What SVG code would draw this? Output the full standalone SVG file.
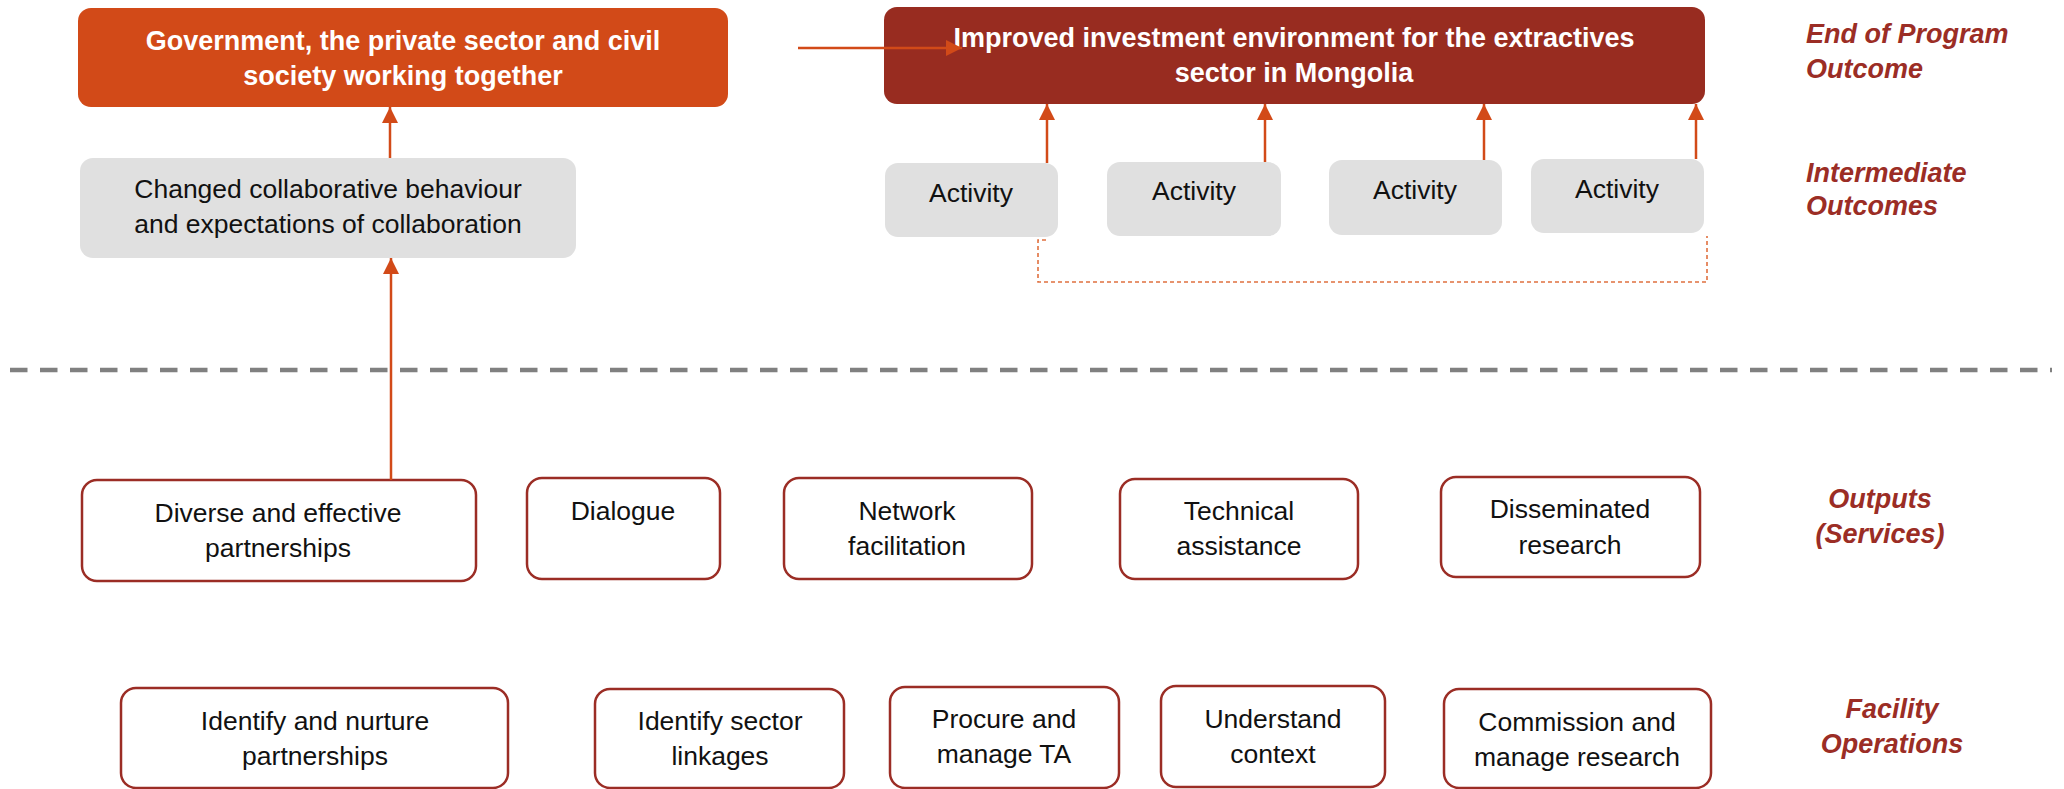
<svg xmlns="http://www.w3.org/2000/svg" width="2064" height="789" viewBox="0 0 2064 789">
<defs>
<style>
.t{font-family:"Liberation Sans",Arial,sans-serif;font-size:26.5px;fill:#111;text-anchor:middle}
.w{font-family:"Liberation Sans",Arial,sans-serif;font-size:27px;font-weight:bold;fill:#fff;text-anchor:middle}
.lab{font-family:"Liberation Sans",Arial,sans-serif;font-size:27px;font-weight:bold;font-style:italic;fill:#9B2D25}
.grey{fill:#E0E0E0}
.out{fill:#fff;stroke:#9B2D25;stroke-width:2.5}
.arr{stroke:#D24A18;stroke-width:2.5;fill:none}
</style>
<marker id="ah" viewBox="0 0 16 16" refX="16" refY="8" markerWidth="16" markerHeight="16" markerUnits="userSpaceOnUse" orient="auto">
<path d="M0,0 L16,8 L0,16 Z" fill="#D24A18"/>
</marker>
</defs>
<rect width="2064" height="789" fill="#fff"/>

<line x1="10" y1="370" x2="2052" y2="370" stroke="#808080" stroke-width="4.5" stroke-dasharray="17.5 12.5"/>

<g id="eop-gov">
<rect x="78" y="8" width="650" height="99" rx="13" fill="#D24A18"/>
<text class="w" x="403" y="50">Government, the private sector and civil</text>
<text class="w" x="403" y="85">society working together</text>
</g>
<g id="eop-invest">
<rect x="884" y="7" width="821" height="97" rx="13" fill="#982C20"/>
<text class="w" x="1294" y="47">Improved investment environment for the extractives</text>
<text class="w" x="1294" y="82">sector in Mongolia</text>
</g>

<g id="int-changed">
<rect x="80" y="158" width="496" height="100" rx="13" class="grey"/>
<text class="t" x="328" y="198">Changed collaborative behaviour</text>
<text class="t" x="328" y="233">and expectations of collaboration</text>
</g>
<g id="act1"><rect x="885" y="163" width="173" height="74" rx="13" class="grey"/><text class="t" x="971" y="202">Activity</text></g>
<g id="act2"><rect x="1107" y="162" width="174" height="74" rx="13" class="grey"/><text class="t" x="1194" y="200">Activity</text></g>
<g id="act3"><rect x="1329" y="160" width="173" height="75" rx="13" class="grey"/><text class="t" x="1415" y="199">Activity</text></g>
<g id="act4"><rect x="1531" y="159" width="173" height="74" rx="13" class="grey"/><text class="t" x="1617" y="198">Activity</text></g>

<g id="out-partner"><rect x="82" y="480" width="394" height="101" rx="15" class="out"/><text class="t" x="278" y="522">Diverse and effective</text><text class="t" x="278" y="557">partnerships</text></g>
<g id="out-dialogue"><rect x="527" y="478" width="193" height="101" rx="15" class="out"/><text class="t" x="623" y="520">Dialogue</text></g>
<g id="out-network"><rect x="784" y="478" width="248" height="101" rx="15" class="out"/><text class="t" x="907" y="520">Network</text><text class="t" x="907" y="555">facilitation</text></g>
<g id="out-ta"><rect x="1120" y="479" width="238" height="100" rx="15" class="out"/><text class="t" x="1239" y="520">Technical</text><text class="t" x="1239" y="555">assistance</text></g>
<g id="out-research"><rect x="1441" y="477" width="259" height="100" rx="15" class="out"/><text class="t" x="1570" y="518">Disseminated</text><text class="t" x="1570" y="554">research</text></g>

<g id="op-partner"><rect x="121" y="688" width="387" height="100" rx="15" class="out"/><text class="t" x="315" y="730">Identify and nurture</text><text class="t" x="315" y="765">partnerships</text></g>
<g id="op-linkages"><rect x="595" y="689" width="249" height="99" rx="15" class="out"/><text class="t" x="720" y="730">Identify sector</text><text class="t" x="720" y="765">linkages</text></g>
<g id="op-procure"><rect x="890" y="687" width="229" height="101" rx="15" class="out"/><text class="t" x="1004" y="728">Procure and</text><text class="t" x="1004" y="763">manage TA</text></g>
<g id="op-context"><rect x="1161" y="686" width="224" height="101" rx="15" class="out"/><text class="t" x="1273" y="728">Understand</text><text class="t" x="1273" y="763">context</text></g>
<g id="op-research"><rect x="1444" y="689" width="267" height="99" rx="15" class="out"/><text class="t" x="1577" y="731">Commission and</text><text class="t" x="1577" y="766">manage research</text></g>

<g id="labels">
<text class="lab" x="1806" y="43">End of Program</text>
<text class="lab" x="1806" y="78">Outcome</text>
<text class="lab" x="1806" y="182">Intermediate</text>
<text class="lab" x="1806" y="215">Outcomes</text>
<text class="lab" x="1880" y="508" text-anchor="middle">Outputs</text>
<text class="lab" x="1880" y="543" text-anchor="middle">(Services)</text>
<text class="lab" x="1892" y="718" text-anchor="middle">Facility</text>
<text class="lab" x="1892" y="753" text-anchor="middle">Operations</text>
</g>

<g id="connectors">
<line class="arr" x1="390" y1="158" x2="390" y2="107" marker-end="url(#ah)"/>
<line class="arr" x1="391" y1="480" x2="391" y2="258" marker-end="url(#ah)"/>
<line class="arr" x1="798" y1="48" x2="962" y2="48" marker-end="url(#ah)"/>
<line class="arr" x1="1047" y1="163" x2="1047" y2="104" marker-end="url(#ah)"/>
<line class="arr" x1="1265" y1="162" x2="1265" y2="104" marker-end="url(#ah)"/>
<line class="arr" x1="1484" y1="160" x2="1484" y2="104" marker-end="url(#ah)"/>
<line class="arr" x1="1696" y1="159" x2="1696" y2="104" marker-end="url(#ah)"/>
<path d="M1046,240 H1038 V282 H1707 V236" fill="none" stroke="#E0703F" stroke-width="1.6" stroke-dasharray="4 3"/>
</g>
</svg>
